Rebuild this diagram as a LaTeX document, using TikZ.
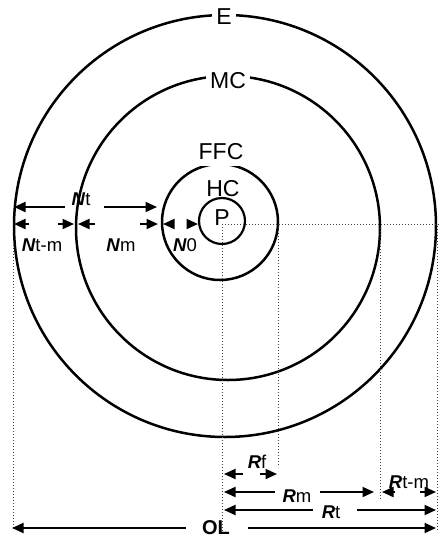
\documentclass[tikz,border=0pt]{standalone}
\usepackage{fontspec}
\setmainfont{Liberation Sans}
\usetikzlibrary{arrows.meta}
\newcommand{\dimtxt}[2]{\textbf{\textit{#1}}#2}
\tikzset{
  ring/.style={draw, circle, line width=2.5pt, inner sep=0pt, outer sep=0pt},
  dimarr/.style={line width=2pt, -{Triangle[length=11.5pt,width=10pt]}},
  guide/.style={line width=0.9pt, dash pattern=on 0.9pt off 2.1pt, black!75},
  biglab/.style={font=\fontsize{23}{23}\selectfont, fill=white, inner sep=4pt},
  plainlab/.style={font=\fontsize{23}{23}\selectfont, inner sep=0pt},
  dimlab/.style={font=\fontsize{18.5}{18.5}\selectfont, inner sep=1pt},
  ollab/.style={font=\bfseries\fontsize{20}{20}\selectfont, inner sep=1pt},
}
\begin{document}
\begin{tikzpicture}[x=1pt,y=-1pt]
\useasboundingbox (0,0) rectangle (439,542);
% circles
\node[ring, minimum size=422pt] (E) at (225,226) {};
\node[ring, minimum size=304pt] (MC) at (228,228) {};
\node[ring, minimum size=116pt] (FFC) at (220,222) {};
\node[ring, minimum size=46pt, line width=2.2pt] (HC) at (222,221) {};
% circle labels
\node[biglab] (Elab) at (224,17) {E};
\node[biglab] (MClab) at (228,81) {MC};
\node[biglab, inner sep=6pt] (FFClab) at (221,152) {FFC};
\node[plainlab] (HClab) at (223,189) {HC};
\node[plainlab] (Plab) at (222,218) {P};
% guide coordinates
\coordinate (pc) at (222,224);
\coordinate (hr) at (439,224);
\coordinate (pb) at (222,532);
\coordinate (ft) at (278,224);
\coordinate (fb) at (278,467);
\coordinate (mt) at (380,228);
\coordinate (mb) at (380,500);
\coordinate (et) at (437,226);
\coordinate (eb) at (437,532);
\coordinate (lt) at (13,245);
\coordinate (lb) at (13,530);
\draw[guide] (pc) -- (hr);
\draw[guide] (pc) -- (pb);
\draw[guide] (ft) -- (fb);
\draw[guide] (mt) -- (mb);
\draw[guide] (et) -- (eb);
\draw[guide] (lt) -- (lb);
% left dimension labels
\node[dimlab] (Nt) at (81,199) {\dimtxt{N}{t}};
\node[dimlab] (Ntm) at (42,245) {\dimtxt{N}{t-m}};
\node[dimlab] (Nm) at (121,245) {\dimtxt{N}{m}};
\node[dimlab] (N0) at (185,245) {\dimtxt{N}{0}};
% left arrows
\coordinate (a1s) at (65,207);  \coordinate (a1e) at (14,207);
\coordinate (a2s) at (104,207); \coordinate (a2e) at (157,207);
\coordinate (b1s) at (29,224);  \coordinate (b1e) at (14,224);
\coordinate (b2s) at (58,224);  \coordinate (b2e) at (74,224);
\coordinate (c1s) at (95,224);  \coordinate (c1e) at (78,224);
\coordinate (c2s) at (140,224); \coordinate (c2e) at (158,224);
\coordinate (d1s) at (174,224); \coordinate (d1e) at (163,224);
\coordinate (d2s) at (187,224); \coordinate (d2e) at (198,224);
\draw[dimarr] (a1s) -- (a1e);
\draw[dimarr] (a2s) -- (a2e);
\draw[dimarr] (b1s) -- (b1e);
\draw[dimarr] (b2s) -- (b2e);
\draw[dimarr] (c1s) -- (c1e);
\draw[dimarr] (c2s) -- (c2e);
\draw[dimarr] (d1s) -- (d1e);
\draw[dimarr] (d2s) -- (d2e);
% bottom dimension labels
\node[dimlab] (Rf) at (257,462) {\dimtxt{R}{f}};
\node[dimlab] (Rm) at (297,496) {\dimtxt{R}{m}};
\node[dimlab] (Rtm) at (409,482) {\dimtxt{R}{t-m}};
\node[dimlab] (Rt) at (331,512) {\dimtxt{R}{t}};
\node[ollab] (OL) at (216,528) {OL};
% bottom arrows
\coordinate (f1s) at (243,474); \coordinate (f1e) at (224,474);
\coordinate (f2s) at (260,474); \coordinate (f2e) at (277,474);
\coordinate (m1s) at (275,492); \coordinate (m1e) at (224,492);
\coordinate (m2s) at (320,492); \coordinate (m2e) at (374,492);
\coordinate (r1s) at (395,492); \coordinate (r1e) at (382,492);
\coordinate (r2s) at (420,492); \coordinate (r2e) at (436,492);
\coordinate (t1s) at (313,510); \coordinate (t1e) at (224,510);
\coordinate (t2s) at (357,510); \coordinate (t2e) at (436,510);
\coordinate (o1s) at (186,528); \coordinate (o1e) at (12,528);
\coordinate (o2s) at (248,528); \coordinate (o2e) at (436,528);
\draw[dimarr] (f1s) -- (f1e);
\draw[dimarr] (f2s) -- (f2e);
\draw[dimarr] (m1s) -- (m1e);
\draw[dimarr] (m2s) -- (m2e);
\draw[dimarr] (r1s) -- (r1e);
\draw[dimarr] (r2s) -- (r2e);
\draw[dimarr] (t1s) -- (t1e);
\draw[dimarr] (t2s) -- (t2e);
\draw[dimarr] (o1s) -- (o1e);
\draw[dimarr] (o2s) -- (o2e);
\end{tikzpicture}
\end{document}
